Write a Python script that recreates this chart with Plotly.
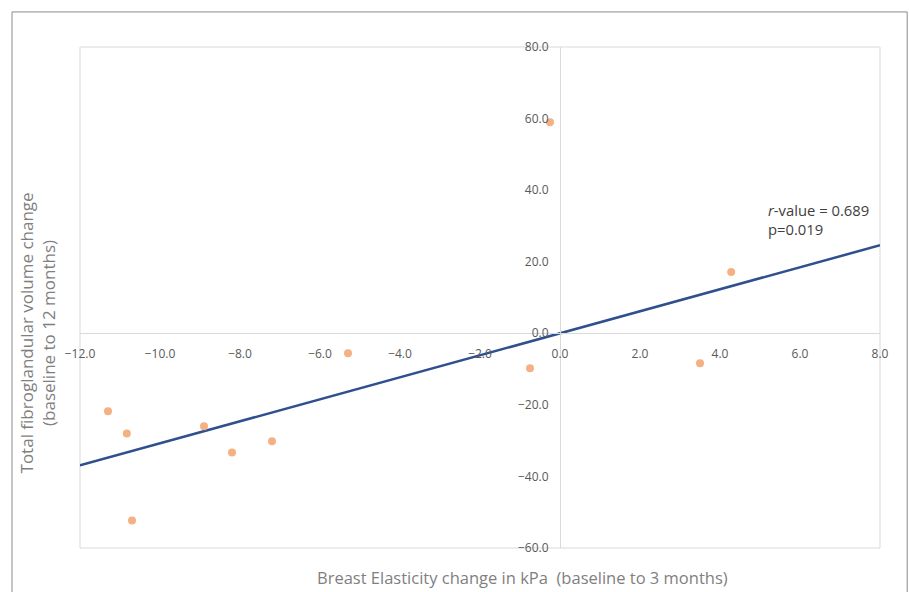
import numpy as np
import plotly.graph_objects as go

# Data
elasticity_change = [-11.3, -10.83, -10.7, -8.9, -8.2, -7.2, -5.3, -0.75, -0.25, 3.5, 4.28]
volume_change = [-21.8, -28.0, -52.3, -26.0, -33.3, -30.2, -5.6, -9.8, 59.0, -8.4, 17.1]
x_range = [-12, 8]
y_range = [-60, 80]
stats_text = "<i>r</i>-value = 0.689<br>p=0.019"

x_title = "Breast Elasticity change in kPa  (baseline to 3 months)"
y_title = "Total fibroglandular volume change<br>(baseline to 12 months)"

# Linear trendline through origin (least squares)
xa = np.array(elasticity_change)
ya = np.array(volume_change)
slope = float((xa * ya).sum() / (xa * xa).sum())
trend_x = np.array(x_range, dtype=float)
trend_y = slope * trend_x

FONT = "Open Sans"
TICK_COL = "#595959"
AX_COL = "#D9D9D9"

fig = go.Figure()
fig.add_trace(go.Scatter(
    x=trend_x, y=trend_y, mode="lines",
    line=dict(color="#2F4F8F", width=2.5), hoverinfo="skip", showlegend=False,
))
fig.add_trace(go.Scatter(
    x=elasticity_change, y=volume_change, mode="markers",
    marker=dict(color="#F4B183", size=8), showlegend=False,
))

xpos = (0 - x_range[0]) / (x_range[1] - x_range[0])
ypos = (0 - y_range[0]) / (y_range[1] - y_range[0])

fig.update_layout(
    width=909, height=592,
    margin=dict(l=80, r=29, t=47, b=44),
    paper_bgcolor="white", plot_bgcolor="white",
    font=dict(family=FONT, color=TICK_COL),
    xaxis=dict(
        range=x_range, dtick=2, tickformat=".1f", showgrid=False, zeroline=False,
        showline=True, linecolor=AX_COL, linewidth=1, ticks="",
        anchor="free", position=ypos, tickfont=dict(size=12, color=TICK_COL),
        ticklabelstandoff=9,
    ),
    yaxis=dict(
        range=y_range, dtick=20, tickformat=".1f", showgrid=False, zeroline=False,
        showline=True, linecolor=AX_COL, linewidth=1, ticks="",
        anchor="free", position=xpos, tickfont=dict(size=12, color=TICK_COL),
        ticklabelstandoff=9,
    ),
    shapes=[
        dict(type="rect", xref="paper", yref="paper", x0=0, y0=0, x1=1, y1=1,
             line=dict(color=AX_COL, width=1), layer="below"),
        dict(type="rect", xref="paper", yref="paper", x0=-0.085, y0=-0.2, x1=1.034, y1=1.07,
             line=dict(color="#8C8C8C", width=1), layer="below"),
    ],
    annotations=[
        dict(text=x_title, xref="paper", yref="paper", x=0.553, y=-0.058,
             xanchor="center", yanchor="middle", showarrow=False,
             font=dict(size=16.5, color="#7F7F7F")),
        dict(text=y_title, xref="paper", yref="paper", x=-0.022, y=0.43,
             xanchor="right", yanchor="middle", textangle=-90, showarrow=False,
             font=dict(size=17, color="#7F7F7F")),
        dict(text=stats_text, xref="paper", yref="paper", x=0.858, y=0.655,
             xanchor="left", yanchor="middle", align="left", showarrow=False,
             font=dict(size=14.8, color="#404040")),
    ],
)

fig.write_html("out.html")
